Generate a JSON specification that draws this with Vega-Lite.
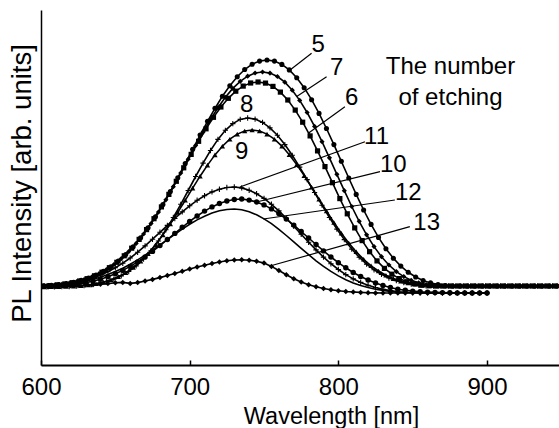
{
  "$schema": "https://vega.github.io/schema/vega-lite/v6.json",
  "width": 518,
  "height": 355,
  "autosize": {"type": "none"},
  "padding": {"left": 41, "top": 10, "right": 0, "bottom": 63},
  "background": "white",
  "config": {"view": {"stroke": null}},
  "datasets": {
    "curves": [
      {"s":"5","w":597,"v":0.7},{"s":"5","w":602,"v":1.1},{"s":"5","w":607,"v":1.6},{"s":"5","w":612,"v":2.4},{"s":"5","w":617,"v":3.4},{"s":"5","w":622,"v":4.8},{"s":"5","w":627,"v":6.6},{"s":"5","w":632,"v":9},{"s":"5","w":637,"v":12},{"s":"5","w":642,"v":15.7},{"s":"5","w":647,"v":20.3},{"s":"5","w":652,"v":25.9},{"s":"5","w":657,"v":32.5},{"s":"5","w":662,"v":40.3},{"s":"5","w":667,"v":49.2},{"s":"5","w":672,"v":59.2},{"s":"5","w":677,"v":70.3},{"s":"5","w":682,"v":82.5},{"s":"5","w":687,"v":95.5},{"s":"5","w":692,"v":109.2},{"s":"5","w":697,"v":123.4},{"s":"5","w":702,"v":137.7},{"s":"5","w":707,"v":151.9},{"s":"5","w":712,"v":165.7},{"s":"5","w":717,"v":178.7},{"s":"5","w":722,"v":190.7},{"s":"5","w":727,"v":201.3},{"s":"5","w":732,"v":210.3},{"s":"5","w":737,"v":217.5},{"s":"5","w":742,"v":222.8},{"s":"5","w":747,"v":225.9},{"s":"5","w":752,"v":227},{"s":"5","w":757,"v":225.9},{"s":"5","w":762,"v":222.6},{"s":"5","w":767,"v":217.1},{"s":"5","w":772,"v":209.3},{"s":"5","w":777,"v":199.3},{"s":"5","w":782,"v":187.3},{"s":"5","w":787,"v":173.6},{"s":"5","w":792,"v":158.5},{"s":"5","w":797,"v":142.4},{"s":"5","w":802,"v":125.7},{"s":"5","w":807,"v":109},{"s":"5","w":812,"v":92.6},{"s":"5","w":817,"v":77},{"s":"5","w":822,"v":62.6},{"s":"5","w":827,"v":49.6},{"s":"5","w":832,"v":38.3},{"s":"5","w":837,"v":28.7},{"s":"5","w":842,"v":20.9},{"s":"5","w":847,"v":14.7},{"s":"5","w":852,"v":10},{"s":"5","w":857,"v":6.5},{"s":"5","w":862,"v":4.1},{"s":"5","w":867,"v":2.4},{"s":"5","w":872,"v":1.4},{"s":"5","w":877,"v":1},{"s":"5","w":882,"v":1},{"s":"5","w":887,"v":1},{"s":"5","w":892,"v":1},{"s":"5","w":897,"v":1},{"s":"5","w":902,"v":1},{"s":"5","w":907,"v":1},{"s":"5","w":912,"v":1},{"s":"5","w":917,"v":1},{"s":"5","w":922,"v":1},{"s":"5","w":927,"v":1},{"s":"5","w":932,"v":1},{"s":"5","w":937,"v":1},{"s":"5","w":942,"v":1},{"s":"5","w":947,"v":1},
      {"s":"7","w":599,"v":0.8},{"s":"7","w":604,"v":1.3},{"s":"7","w":609,"v":1.9},{"s":"7","w":614,"v":2.7},{"s":"7","w":619,"v":3.8},{"s":"7","w":624,"v":5.4},{"s":"7","w":629,"v":7.4},{"s":"7","w":634,"v":10},{"s":"7","w":639,"v":13.3},{"s":"7","w":644,"v":17.4},{"s":"7","w":649,"v":22.4},{"s":"7","w":654,"v":28.4},{"s":"7","w":659,"v":35.4},{"s":"7","w":664,"v":43.6},{"s":"7","w":669,"v":53},{"s":"7","w":674,"v":63.4},{"s":"7","w":679,"v":74.9},{"s":"7","w":684,"v":87.2},{"s":"7","w":689,"v":100.3},{"s":"7","w":694,"v":113.9},{"s":"7","w":699,"v":127.8},{"s":"7","w":704,"v":141.5},{"s":"7","w":709,"v":154.9},{"s":"7","w":714,"v":167.6},{"s":"7","w":719,"v":179.3},{"s":"7","w":724,"v":189.7},{"s":"7","w":729,"v":198.6},{"s":"7","w":734,"v":205.7},{"s":"7","w":739,"v":210.8},{"s":"7","w":744,"v":214},{"s":"7","w":749,"v":215},{"s":"7","w":754,"v":213.9},{"s":"7","w":759,"v":210.5},{"s":"7","w":764,"v":204.8},{"s":"7","w":769,"v":196.8},{"s":"7","w":774,"v":186.6},{"s":"7","w":779,"v":174.5},{"s":"7","w":784,"v":160.6},{"s":"7","w":789,"v":145.3},{"s":"7","w":794,"v":129.2},{"s":"7","w":799,"v":112.7},{"s":"7","w":804,"v":96.3},{"s":"7","w":809,"v":80.5},{"s":"7","w":814,"v":65.7},{"s":"7","w":819,"v":52.2},{"s":"7","w":824,"v":40.4},{"s":"7","w":829,"v":30.3},{"s":"7","w":834,"v":22},{"s":"7","w":839,"v":15.4},{"s":"7","w":844,"v":10.4},{"s":"7","w":849,"v":6.7},{"s":"7","w":854,"v":4.2},{"s":"7","w":859,"v":2.5},{"s":"7","w":864,"v":1.6},{"s":"7","w":869,"v":1.2},{"s":"7","w":874,"v":1},{"s":"7","w":879,"v":1},{"s":"7","w":884,"v":1},{"s":"7","w":889,"v":1},{"s":"7","w":894,"v":1},{"s":"7","w":899,"v":1},{"s":"7","w":904,"v":1},{"s":"7","w":909,"v":1},{"s":"7","w":914,"v":1},{"s":"7","w":919,"v":1},{"s":"7","w":924,"v":1},{"s":"7","w":929,"v":1},{"s":"7","w":934,"v":1},{"s":"7","w":939,"v":1},{"s":"7","w":944,"v":1},{"s":"7","w":949,"v":1},
      {"s":"6","w":596,"v":0.6},{"s":"6","w":601,"v":0.9},{"s":"6","w":606,"v":1.4},{"s":"6","w":611,"v":2.1},{"s":"6","w":616,"v":3},{"s":"6","w":621,"v":4.3},{"s":"6","w":626,"v":6},{"s":"6","w":631,"v":8.3},{"s":"6","w":636,"v":11.2},{"s":"6","w":641,"v":14.8},{"s":"6","w":646,"v":19.3},{"s":"6","w":651,"v":24.7},{"s":"6","w":656,"v":31.2},{"s":"6","w":661,"v":38.8},{"s":"6","w":666,"v":47.6},{"s":"6","w":671,"v":57.4},{"s":"6","w":676,"v":68.3},{"s":"6","w":681,"v":80.1},{"s":"6","w":686,"v":92.6},{"s":"6","w":691,"v":105.7},{"s":"6","w":696,"v":119.2},{"s":"6","w":701,"v":132.6},{"s":"6","w":706,"v":145.7},{"s":"6","w":711,"v":158.2},{"s":"6","w":716,"v":169.7},{"s":"6","w":721,"v":180},{"s":"6","w":726,"v":188.7},{"s":"6","w":731,"v":195.8},{"s":"6","w":736,"v":200.9},{"s":"6","w":741,"v":204},{"s":"6","w":746,"v":205},{"s":"6","w":751,"v":203.9},{"s":"6","w":756,"v":200.6},{"s":"6","w":761,"v":194.9},{"s":"6","w":766,"v":187},{"s":"6","w":771,"v":176.9},{"s":"6","w":776,"v":164.8},{"s":"6","w":781,"v":151.1},{"s":"6","w":786,"v":136.1},{"s":"6","w":791,"v":120.4},{"s":"6","w":796,"v":104.3},{"s":"6","w":801,"v":88.4},{"s":"6","w":806,"v":73.2},{"s":"6","w":811,"v":59.1},{"s":"6","w":816,"v":46.4},{"s":"6","w":821,"v":35.3},{"s":"6","w":826,"v":26.1},{"s":"6","w":831,"v":18.6},{"s":"6","w":836,"v":12.8},{"s":"6","w":841,"v":8.4},{"s":"6","w":846,"v":5.3},{"s":"6","w":851,"v":3.2},{"s":"6","w":856,"v":1.8},{"s":"6","w":861,"v":1.2},{"s":"6","w":866,"v":1},{"s":"6","w":871,"v":1},{"s":"6","w":876,"v":1},{"s":"6","w":881,"v":1},{"s":"6","w":886,"v":1},{"s":"6","w":891,"v":1},{"s":"6","w":896,"v":1},{"s":"6","w":901,"v":1},{"s":"6","w":906,"v":1},{"s":"6","w":911,"v":1},{"s":"6","w":916,"v":1},{"s":"6","w":921,"v":1},{"s":"6","w":926,"v":1},{"s":"6","w":931,"v":1},{"s":"6","w":936,"v":1},{"s":"6","w":941,"v":1},{"s":"6","w":946,"v":1},
      {"s":"8","w":599,"v":0},{"s":"8","w":604,"v":0.1},{"s":"8","w":609,"v":0.2},{"s":"8","w":614,"v":0.3},{"s":"8","w":619,"v":0.5},{"s":"8","w":624,"v":0.9},{"s":"8","w":629,"v":1.5},{"s":"8","w":634,"v":2.3},{"s":"8","w":639,"v":3.6},{"s":"8","w":644,"v":5.4},{"s":"8","w":649,"v":7.8},{"s":"8","w":654,"v":11.1},{"s":"8","w":659,"v":15.5},{"s":"8","w":664,"v":21.1},{"s":"8","w":669,"v":28},{"s":"8","w":674,"v":36.3},{"s":"8","w":679,"v":46},{"s":"8","w":684,"v":57.2},{"s":"8","w":689,"v":69.5},{"s":"8","w":694,"v":82.7},{"s":"8","w":699,"v":96.5},{"s":"8","w":704,"v":110.5},{"s":"8","w":709,"v":123.9},{"s":"8","w":714,"v":136.5},{"s":"8","w":719,"v":147.6},{"s":"8","w":724,"v":156.7},{"s":"8","w":729,"v":163.4},{"s":"8","w":734,"v":167.6},{"s":"8","w":739,"v":169},{"s":"8","w":744,"v":167.9},{"s":"8","w":749,"v":164.6},{"s":"8","w":754,"v":159.1},{"s":"8","w":759,"v":151.7},{"s":"8","w":764,"v":142.4},{"s":"8","w":769,"v":131.7},{"s":"8","w":774,"v":119.9},{"s":"8","w":779,"v":107.4},{"s":"8","w":784,"v":94.5},{"s":"8","w":789,"v":81.8},{"s":"8","w":794,"v":69.5},{"s":"8","w":799,"v":57.9},{"s":"8","w":804,"v":47.4},{"s":"8","w":809,"v":37.9},{"s":"8","w":814,"v":29.8},{"s":"8","w":819,"v":22.9},{"s":"8","w":824,"v":17.2},{"s":"8","w":829,"v":12.6},{"s":"8","w":834,"v":9},{"s":"8","w":839,"v":6.3},{"s":"8","w":844,"v":4.3},{"s":"8","w":849,"v":2.9},{"s":"8","w":854,"v":1.8},{"s":"8","w":859,"v":1.2},{"s":"8","w":864,"v":1},{"s":"8","w":869,"v":1},{"s":"8","w":874,"v":1},{"s":"8","w":879,"v":1},{"s":"8","w":884,"v":1},{"s":"8","w":889,"v":1},{"s":"8","w":894,"v":1},{"s":"8","w":899,"v":1},{"s":"8","w":904,"v":1},{"s":"8","w":909,"v":1},{"s":"8","w":914,"v":1},{"s":"8","w":919,"v":1},{"s":"8","w":924,"v":1},{"s":"8","w":929,"v":1},{"s":"8","w":934,"v":1},{"s":"8","w":939,"v":1},{"s":"8","w":944,"v":1},{"s":"8","w":949,"v":1},
      {"s":"9","w":597,"v":0},{"s":"9","w":602,"v":0.1},{"s":"9","w":607,"v":0.2},{"s":"9","w":612,"v":0.3},{"s":"9","w":617,"v":0.5},{"s":"9","w":622,"v":0.8},{"s":"9","w":627,"v":1.3},{"s":"9","w":632,"v":2.1},{"s":"9","w":637,"v":3.2},{"s":"9","w":642,"v":4.9},{"s":"9","w":647,"v":7.2},{"s":"9","w":652,"v":10.4},{"s":"9","w":657,"v":14.4},{"s":"9","w":662,"v":19.6},{"s":"9","w":667,"v":25.9},{"s":"9","w":672,"v":33.4},{"s":"9","w":677,"v":42.2},{"s":"9","w":682,"v":52.1},{"s":"9","w":687,"v":63},{"s":"9","w":692,"v":74.6},{"s":"9","w":697,"v":86.7},{"s":"9","w":702,"v":98.9},{"s":"9","w":707,"v":110.8},{"s":"9","w":712,"v":121.9},{"s":"9","w":717,"v":132.1},{"s":"9","w":722,"v":140.8},{"s":"9","w":727,"v":147.8},{"s":"9","w":732,"v":152.9},{"s":"9","w":737,"v":156},{"s":"9","w":742,"v":157},{"s":"9","w":747,"v":156},{"s":"9","w":752,"v":152.9},{"s":"9","w":757,"v":147.8},{"s":"9","w":762,"v":140.9},{"s":"9","w":767,"v":132.3},{"s":"9","w":772,"v":122.4},{"s":"9","w":777,"v":111.4},{"s":"9","w":782,"v":99.8},{"s":"9","w":787,"v":87.8},{"s":"9","w":792,"v":76},{"s":"9","w":797,"v":64.5},{"s":"9","w":802,"v":53.8},{"s":"9","w":807,"v":44},{"s":"9","w":812,"v":35.2},{"s":"9","w":817,"v":27.7},{"s":"9","w":822,"v":21.2},{"s":"9","w":827,"v":16},{"s":"9","w":832,"v":11.7},{"s":"9","w":837,"v":8.4},{"s":"9","w":842,"v":5.9},{"s":"9","w":847,"v":4},{"s":"9","w":852,"v":2.7},{"s":"9","w":857,"v":1.7},{"s":"9","w":862,"v":1.2},{"s":"9","w":867,"v":1},{"s":"9","w":872,"v":1},{"s":"9","w":877,"v":1},{"s":"9","w":882,"v":1},{"s":"9","w":887,"v":1},{"s":"9","w":892,"v":1},{"s":"9","w":897,"v":1},{"s":"9","w":902,"v":1},{"s":"9","w":907,"v":1},{"s":"9","w":912,"v":1},{"s":"9","w":917,"v":1},{"s":"9","w":922,"v":1},{"s":"9","w":927,"v":1},{"s":"9","w":932,"v":1},{"s":"9","w":937,"v":1},{"s":"9","w":942,"v":1},{"s":"9","w":947,"v":1},
      {"s":"11","w":600,"v":0.7},{"s":"11","w":605,"v":1.1},{"s":"11","w":610,"v":1.7},{"s":"11","w":615,"v":2.5},{"s":"11","w":620,"v":3.5},{"s":"11","w":625,"v":4.9},{"s":"11","w":630,"v":6.7},{"s":"11","w":635,"v":9},{"s":"11","w":640,"v":11.8},{"s":"11","w":645,"v":15.2},{"s":"11","w":650,"v":19.2},{"s":"11","w":655,"v":23.8},{"s":"11","w":660,"v":29},{"s":"11","w":665,"v":34.8},{"s":"11","w":670,"v":41.1},{"s":"11","w":675,"v":47.8},{"s":"11","w":680,"v":54.7},{"s":"11","w":685,"v":61.6},{"s":"11","w":690,"v":68.5},{"s":"11","w":695,"v":75.1},{"s":"11","w":700,"v":81.2},{"s":"11","w":705,"v":86.7},{"s":"11","w":710,"v":91.3},{"s":"11","w":715,"v":95.1},{"s":"11","w":720,"v":97.8},{"s":"11","w":725,"v":99.5},{"s":"11","w":730,"v":100},{"s":"11","w":735,"v":99.1},{"s":"11","w":740,"v":96.8},{"s":"11","w":745,"v":93.3},{"s":"11","w":750,"v":88.6},{"s":"11","w":755,"v":82.7},{"s":"11","w":760,"v":76.1},{"s":"11","w":765,"v":68.7},{"s":"11","w":770,"v":60.8},{"s":"11","w":775,"v":52.8},{"s":"11","w":780,"v":44.8},{"s":"11","w":785,"v":37.1},{"s":"11","w":790,"v":29.9},{"s":"11","w":795,"v":23.3},{"s":"11","w":800,"v":17.5},{"s":"11","w":805,"v":12.4},{"s":"11","w":810,"v":8.1},{"s":"11","w":815,"v":4.6},{"s":"11","w":820,"v":1.7},{"s":"11","w":825,"v":-0.6},{"s":"11","w":830,"v":-2.3},{"s":"11","w":835,"v":-3.6},{"s":"11","w":840,"v":-4.7},{"s":"11","w":845,"v":-5.2},{"s":"11","w":850,"v":-5.5},{"s":"11","w":855,"v":-5.7},{"s":"11","w":860,"v":-5.8},{"s":"11","w":865,"v":-5.9},{"s":"11","w":870,"v":-6},{"s":"11","w":875,"v":-6},{"s":"11","w":880,"v":-6},{"s":"11","w":885,"v":-6},{"s":"11","w":890,"v":-6},{"s":"11","w":895,"v":-6},{"s":"11","w":900,"v":-6},
      {"s":"10","w":600,"v":0.5},{"s":"10","w":605,"v":0.7},{"s":"10","w":610,"v":1},{"s":"10","w":615,"v":1.5},{"s":"10","w":620,"v":2.2},{"s":"10","w":625,"v":3.1},{"s":"10","w":630,"v":4.3},{"s":"10","w":635,"v":5.9},{"s":"10","w":640,"v":7.8},{"s":"10","w":645,"v":10.3},{"s":"10","w":650,"v":13.2},{"s":"10","w":655,"v":16.6},{"s":"10","w":660,"v":20.6},{"s":"10","w":665,"v":25.1},{"s":"10","w":670,"v":30.1},{"s":"10","w":675,"v":35.6},{"s":"10","w":680,"v":41.4},{"s":"10","w":685,"v":47.5},{"s":"10","w":690,"v":53.6},{"s":"10","w":695,"v":59.7},{"s":"10","w":700,"v":65.6},{"s":"10","w":705,"v":71},{"s":"10","w":710,"v":75.9},{"s":"10","w":715,"v":80.1},{"s":"10","w":720,"v":83.5},{"s":"10","w":725,"v":86},{"s":"10","w":730,"v":87.5},{"s":"10","w":735,"v":88},{"s":"10","w":740,"v":86.9},{"s":"10","w":745,"v":85},{"s":"10","w":750,"v":82.1},{"s":"10","w":755,"v":78.1},{"s":"10","w":760,"v":73.4},{"s":"10","w":765,"v":67.9},{"s":"10","w":770,"v":61.9},{"s":"10","w":775,"v":55.5},{"s":"10","w":780,"v":49},{"s":"10","w":785,"v":42.5},{"s":"10","w":790,"v":36.1},{"s":"10","w":795,"v":30},{"s":"10","w":800,"v":24.3},{"s":"10","w":805,"v":19.2},{"s":"10","w":810,"v":14.5},{"s":"10","w":815,"v":10.5},{"s":"10","w":820,"v":7},{"s":"10","w":825,"v":4},{"s":"10","w":830,"v":1.5},{"s":"10","w":835,"v":-0.5},{"s":"10","w":840,"v":-2.2},{"s":"10","w":845,"v":-3.3},{"s":"10","w":850,"v":-4.1},{"s":"10","w":855,"v":-4.7},{"s":"10","w":860,"v":-5.1},{"s":"10","w":865,"v":-5.4},{"s":"10","w":870,"v":-5.6},{"s":"10","w":875,"v":-5.8},{"s":"10","w":880,"v":-5.9},{"s":"10","w":885,"v":-6},{"s":"10","w":890,"v":-6},{"s":"10","w":895,"v":-6},{"s":"10","w":900,"v":-6},
      {"s":"12","w":600,"v":0.9},{"s":"12","w":605,"v":1.3},{"s":"12","w":610,"v":1.8},{"s":"12","w":615,"v":2.4},{"s":"12","w":620,"v":3.3},{"s":"12","w":625,"v":4.5},{"s":"12","w":630,"v":5.9},{"s":"12","w":635,"v":7.7},{"s":"12","w":640,"v":9.8},{"s":"12","w":645,"v":12.4},{"s":"12","w":650,"v":15.4},{"s":"12","w":655,"v":18.8},{"s":"12","w":660,"v":22.8},{"s":"12","w":665,"v":27.1},{"s":"12","w":670,"v":31.8},{"s":"12","w":675,"v":36.8},{"s":"12","w":680,"v":42.1},{"s":"12","w":685,"v":47.4},{"s":"12","w":690,"v":52.7},{"s":"12","w":695,"v":57.9},{"s":"12","w":700,"v":62.7},{"s":"12","w":705,"v":67.1},{"s":"12","w":710,"v":70.8},{"s":"12","w":715,"v":73.9},{"s":"12","w":720,"v":76.2},{"s":"12","w":725,"v":77.5},{"s":"12","w":730,"v":78},{"s":"12","w":735,"v":77.2},{"s":"12","w":740,"v":75.2},{"s":"12","w":745,"v":72.2},{"s":"12","w":750,"v":68.1},{"s":"12","w":755,"v":63.3},{"s":"12","w":760,"v":57.6},{"s":"12","w":765,"v":51.5},{"s":"12","w":770,"v":45.1},{"s":"12","w":775,"v":38.6},{"s":"12","w":780,"v":32.3},{"s":"12","w":785,"v":26.2},{"s":"12","w":790,"v":20.6},{"s":"12","w":795,"v":15.6},{"s":"12","w":800,"v":11.1},{"s":"12","w":805,"v":7.3},{"s":"12","w":810,"v":4.1},{"s":"12","w":815,"v":1.6},{"s":"12","w":820,"v":-0.5},{"s":"12","w":825,"v":-2.2},{"s":"12","w":830,"v":-3.4},{"s":"12","w":835,"v":-4.4},{"s":"12","w":840,"v":-5.2},{"s":"12","w":845,"v":-5.5},{"s":"12","w":850,"v":-5.7},{"s":"12","w":855,"v":-5.8},{"s":"12","w":860,"v":-5.9},{"s":"12","w":865,"v":-6},{"s":"12","w":870,"v":-6},{"s":"12","w":875,"v":-6},{"s":"12","w":880,"v":-6},{"s":"12","w":885,"v":-6},{"s":"12","w":890,"v":-6},{"s":"12","w":895,"v":-6},{"s":"12","w":900,"v":-6},
      {"s":"13","w":600,"v":0},{"s":"13","w":605,"v":0.3},{"s":"13","w":610,"v":0.6},{"s":"13","w":615,"v":0.9},{"s":"13","w":620,"v":1.2},{"s":"13","w":625,"v":1.5},{"s":"13","w":630,"v":1.9},{"s":"13","w":635,"v":2.3},{"s":"13","w":640,"v":2.8},{"s":"13","w":645,"v":3.4},{"s":"13","w":650,"v":4.2},{"s":"13","w":655,"v":4.6},{"s":"13","w":660,"v":3.6},{"s":"13","w":665,"v":4.4},{"s":"13","w":670,"v":6},{"s":"13","w":675,"v":7.6},{"s":"13","w":680,"v":9.4},{"s":"13","w":685,"v":11.4},{"s":"13","w":690,"v":13.6},{"s":"13","w":695,"v":15.8},{"s":"13","w":700,"v":17.9},{"s":"13","w":705,"v":19.9},{"s":"13","w":710,"v":21.8},{"s":"13","w":715,"v":23.5},{"s":"13","w":720,"v":25},{"s":"13","w":725,"v":26.2},{"s":"13","w":730,"v":27},{"s":"13","w":735,"v":27.2},{"s":"13","w":740,"v":26.8},{"s":"13","w":745,"v":25.8},{"s":"13","w":750,"v":23.9},{"s":"13","w":755,"v":20.6},{"s":"13","w":760,"v":16.5},{"s":"13","w":765,"v":12.2},{"s":"13","w":770,"v":8.3},{"s":"13","w":775,"v":5},{"s":"13","w":780,"v":2.3},{"s":"13","w":785,"v":0.2},{"s":"13","w":790,"v":-1.5},{"s":"13","w":795,"v":-2.8},{"s":"13","w":800,"v":-3.8},{"s":"13","w":805,"v":-4.5},{"s":"13","w":810,"v":-5},{"s":"13","w":815,"v":-5.4},{"s":"13","w":820,"v":-5.7},{"s":"13","w":825,"v":-5.9},{"s":"13","w":830,"v":-6},{"s":"13","w":835,"v":-6},{"s":"13","w":840,"v":-6},{"s":"13","w":845,"v":-6},{"s":"13","w":850,"v":-6},{"s":"13","w":855,"v":-6},{"s":"13","w":860,"v":-6},{"s":"13","w":865,"v":-6},{"s":"13","w":870,"v":-6},{"s":"13","w":875,"v":-6},{"s":"13","w":880,"v":-6},{"s":"13","w":885,"v":-6},{"s":"13","w":890,"v":-6},{"s":"13","w":895,"v":-6},{"s":"13","w":900,"v":-6}
    ],
    "labels": [
      {"t":"5","w":786.5,"v":242},
      {"t":"7","w":798.8,"v":218.7},
      {"t":"6","w":809,"v":188.7},
      {"t":"8","w":738.3,"v":182},
      {"t":"9","w":735,"v":135.3},
      {"t":"11","w":825.7,"v":150.3},
      {"t":"10","w":837,"v":122},
      {"t":"12","w":847,"v":93.7},
      {"t":"13","w":859.4,"v":63.7},
      {"t":"The number","w":875.4,"v":220},
      {"t":"of etching","w":875.4,"v":188.7}
    ],
    "leaders": [
      {"s":"5","w":782,"v":233.7,"w2":767.5,"v2":217},
      {"s":"7","w":792.1,"v":210.3,"w2":772,"v2":190.5},
      {"s":"6","w":804.4,"v":180.3,"w2":780,"v2":154},
      {"s":"11","w":817.9,"v":145.3,"w2":733.8,"v2":100},
      {"s":"10","w":828,"v":115.3,"w2":745,"v2":85},
      {"s":"12","w":838,"v":87,"w2":749.5,"v2":68},
      {"s":"13","w":848.1,"v":60.3,"w2":754,"v2":21}
    ]
  },
  "encoding": {
    "x": {"field": "w", "type": "quantitative", "scale": {"domain": [600, 948.4], "nice": false, "zero": false},
      "axis": {"values": [600, 700, 800, 900], "title": "Wavelength [nm]", "grid": false, "domainColor": "black", "domainWidth": 2, "tickColor": "black", "tickWidth": 1.5, "tickSize": -5, "labelFont": "Liberation Sans", "labelFontSize": 24, "labelColor": "black", "labelPadding": 15, "labelFlush": false, "labelOverlap": false, "titleFont": "Liberation Sans", "titleFontSize": 23.5, "titleFontWeight": "normal", "titleColor": "black", "titleX": 290, "titleY": 58, "titleAlign": "center", "titleBaseline": "alphabetic"}},
    "y": {"field": "v", "type": "quantitative", "scale": {"domain": [-78, 277], "nice": false, "zero": false},
      "axis": {"title": "PL Intensity [arb. units]", "labels": false, "ticks": false, "grid": false, "domainColor": "black", "domainWidth": 1.5, "titleFont": "Liberation Sans", "titleFontSize": 27.5, "titleFontWeight": "normal", "titleColor": "black", "titleAngle": -90, "titleX": -11, "titleY": 173, "titleAlign": "center", "titleBaseline": "alphabetic"}}
  },
  "layer": [
    {
      "data": {"name": "curves"},
      "mark": {"type": "line", "color": "black", "strokeWidth": 1.6, "clip": true},
      "encoding": {
        "detail": {"field": "s", "type": "nominal"}
      }
    },
    {
      "data": {"name": "curves"},
      "transform": [{"filter": "datum.s != '12'"}],
      "mark": {"type": "point", "filled": true, "color": "black", "opacity": 1, "clip": true},
      "encoding": {
        "shape": {"field": "s", "type": "nominal", "legend": null,
          "scale": {"domain": ["5","7","6","8","9","11","10","13"],
            "range": ["circle","diamond","square","M-1,-0.2H1V0.2H-1ZM-0.2,-1H0.2V1H-0.2Z","triangle-up","M-1,-0.2H1V0.2H-1ZM-0.2,-1H0.2V1H-0.2Z","circle","diamond"]}},
        "size": {"field": "s", "type": "ordinal", "legend": null,
          "scale": {"domain": ["5","7","6","8","9","11","10","13"], "range": [26, 30, 20, 60, 24, 60, 26, 28]}}
      }
    },
    {
      "data": {"name": "leaders"},
      "mark": {"type": "rule", "color": "black", "strokeWidth": 1.2},
      "encoding": {
        "x2": {"field": "w2"},
        "y2": {"field": "v2"}
      }
    },
    {
      "data": {"name": "labels"},
      "mark": {"type": "text", "font": "Liberation Sans", "fontSize": 24, "color": "black", "align": "center", "baseline": "middle"},
      "encoding": {
        "text": {"field": "t", "type": "nominal"}
      }
    }
  ]
}
